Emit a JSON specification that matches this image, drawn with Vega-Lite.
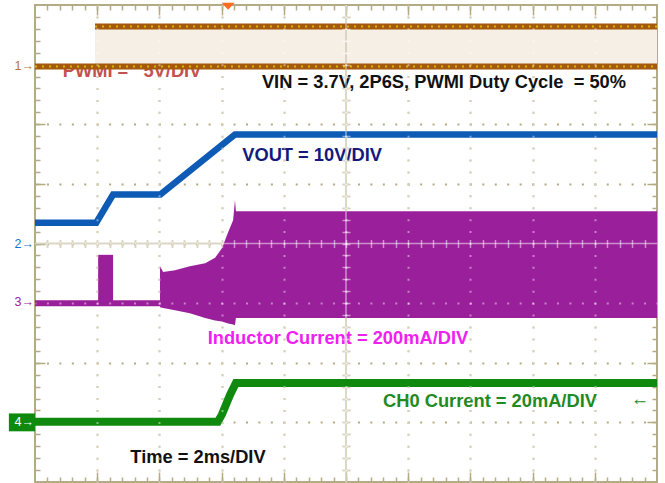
{
 "$schema":"https://vega.github.io/schema/vega-lite/v6.json",
 "width":622,"height":477,
 "autosize":{"type":"none"},
 "padding":{"left":35,"top":5,"right":8,"bottom":1},
 "background":"white",
 "config":{"view":{"stroke":"#b3ab84","strokeWidth":2},
   "axis":{"labels":false,"title":null,"domain":false,"grid":false,"ticks":true,"tickColor":"#b3ab84","tickWidth":1.5,"gridColor":"#b3ab84"}},
 "datasets":{
  "pwm_band":[{"t":1.93,"hi":7.64,"lo":6.97},{"t":20,"hi":7.64,"lo":6.97}],
  "pwm":[{"s":"low","t":0,"v":6.97},{"s":"low","t":20,"v":6.97},{"s":"high","t":1.93,"v":7.64},{"s":"high","t":20,"v":7.64}],
  "vout":[{"t":0,"v":4.35},{"t":1.97,"v":4.35},{"t":2.51,"v":4.82},{"t":4.03,"v":4.82},{"t":6.43,"v":5.83},{"t":20,"v":5.83}],
  "ind_base":[{"t":0,"v":3.0},{"t":4.02,"v":3.0}],
  "ind_pulse":[{"t1":2.03,"t2":2.51,"v1":3.0,"v2":3.81}],
  "ind_env":[{"t":4.02,"hi":3.62,"lo":2.93},{"t":4.12,"hi":3.52,"lo":2.92},{"t":4.5,"hi":3.55,"lo":2.88},{"t":4.98,"hi":3.62,"lo":2.83},{"t":5.47,"hi":3.67,"lo":2.75},{"t":5.79,"hi":3.76,"lo":2.71},{"t":6.01,"hi":3.92,"lo":2.69},{"t":6.21,"hi":4.19,"lo":2.66},{"t":6.37,"hi":4.39,"lo":2.64},{"t":6.43,"hi":4.73,"lo":2.63},{"t":6.46,"hi":4.54,"lo":2.75},{"t":20,"hi":4.54,"lo":2.75}],
  "ch0":[{"t":0,"v":1.01},{"t":5.88,"v":1.01},{"t":6.01,"v":1.13},{"t":6.27,"v":1.46},{"t":6.46,"v":1.66},{"t":20,"v":1.66}],
  "labels":[
   {"k":"PWM","text":"PWMI =\u00a0\u00a0 5V/DIV","t":3.12,"v":6.88},
   {"k":"VIN","text":"VIN = 3.7V, 2P6S, PWMI Duty Cycle\u00a0 = 50%","t":13.15,"v":6.69},
   {"k":"VOUT","text":"VOUT = 10V/DIV","t":8.91,"v":5.47},
   {"k":"IND","text":"Inductor Current = 200mA/DIV","t":9.74,"v":2.40},
   {"k":"CH0","text":"CH0 Current = 20mA/DIV","t":14.63,"v":1.34},
   {"k":"CH0","text":"←","t":19.45,"v":1.37},
   {"k":"TIME","text":"Time = 2ms/DIV","t":5.24,"v":0.40}
  ],
  "markers":[
   {"k":"m1","text":"1→","t":0,"v":6.97},
   {"k":"m2","text":"2→","t":0,"v":4.0},
   {"k":"m3","text":"3→","t":0,"v":3.02},
   {"k":"m4","text":"4→","t":0,"v":1.0}
  ],
  "box4":[{"t1":-0.84,"t2":0,"v1":0.85,"v2":1.15}],
  "trig":[{"t":6.21,"v":7.93}]
 },
 "layer":[
  {"data":{"name":"pwm_band"},"mark":{"type":"area","color":"#f6efe5"},
   "encoding":{
    "x":{"field":"t","type":"quantitative","scale":{"domain":[0,20],"nice":false,"zero":false},
      "axis":{"orient":"bottom","values":[2,4,6,8,10,12,14,16,18],"grid":true,"gridWidth":2,"gridDash":[2,9.925],"gridDashOffset":1,"ticks":false}},
    "y":{"field":"hi","type":"quantitative","scale":{"domain":[0,8],"nice":false,"zero":false},
      "axis":{"orient":"left","values":[1,2,3,4,5,6,7],"grid":true,"gridWidth":2,"gridDash":[2,10.44],"gridDashOffset":1,"ticks":false}},
    "y2":{"field":"lo"}}},
  {"data":{"values":[{}]},"mark":{"type":"rule","color":"#b3ab84","strokeWidth":1.5},
   "encoding":{"x":{"datum":10,"type":"quantitative","axis":null}}},
  {"data":{"values":[{}]},"mark":{"type":"rule","color":"#b3ab84","strokeWidth":1.5},
   "encoding":{"y":{"datum":4,"type":"quantitative","axis":null}}},
  {"data":{"name":"labels"},"mark":{"type":"text","font":"Liberation Sans","fontWeight":"bold","fontSize":18.3,"align":"center","baseline":"middle"},
   "encoding":{
    "x":{"field":"t","type":"quantitative","axis":{"orient":"bottom","values":[0.4,0.8,1.2,1.6,2,2.4,2.8,3.2,3.6,4,4.4,4.8,5.2,5.6,6,6.4,6.8,7.2,7.6,8,8.4,8.8,9.2,9.6,10,10.4,10.8,11.2,11.6,12,12.4,12.8,13.2,13.6,14,14.4,14.8,15.2,15.6,16,16.4,16.8,17.2,17.6,18,18.4,18.8,19.2,19.6],"tickSize":5,"offset":-5}},
    "y":{"field":"v","type":"quantitative","axis":{"orient":"left","values":[0.2,0.4,0.6,0.8,1,1.2,1.4,1.6,1.8,2,2.2,2.4,2.6,2.8,3,3.2,3.4,3.6,3.8,4,4.2,4.4,4.6,4.8,5,5.2,5.4,5.6,5.8,6,6.2,6.4,6.6,6.8,7,7.2,7.4,7.6,7.8],"tickSize":5,"offset":-5}},
    "text":{"field":"text"},
    "color":{"field":"k","type":"nominal","legend":null,"scale":{"domain":["PWM","VIN","VOUT","IND","CH0","TIME","m1","m2","m3","m4"],"range":["#c4514f","#111111","#141a7c","#f020f0","#1f8a1f","#111111","#b8742f","#1f6fd0","#a0209a","#ffffff"]}}}},
  {"data":{"name":"pwm"},"mark":{"type":"line","color":"#a5590c","strokeWidth":6},
   "encoding":{
    "x":{"field":"t","type":"quantitative","axis":{"orient":"bottom","values":[2,4,6,8,10,12,14,16,18],"tickSize":10,"offset":-10}},
    "y":{"field":"v","type":"quantitative","axis":{"orient":"left","values":[1,2,3,4,5,6,7],"tickSize":10,"offset":-10}},
    "detail":{"field":"s"}}},
  {"data":{"name":"pwm"},"mark":{"type":"line","color":"#e2d000","strokeWidth":2,"strokeDash":[2,5],"opacity":0.8},
   "encoding":{
    "x":{"field":"t","type":"quantitative","axis":null},
    "y":{"field":"v","type":"quantitative","axis":null},
    "detail":{"field":"s"}}},
  {"data":{"name":"vout"},"mark":{"type":"line","color":"#0d5bb5","strokeWidth":6.5},
   "encoding":{
    "x":{"field":"t","type":"quantitative","axis":{"orient":"top","values":[0.4,0.8,1.2,1.6,2,2.4,2.8,3.2,3.6,4,4.4,4.8,5.2,5.6,6,6.4,6.8,7.2,7.6,8,8.4,8.8,9.2,9.6,10,10.4,10.8,11.2,11.6,12,12.4,12.8,13.2,13.6,14,14.4,14.8,15.2,15.6,16,16.4,16.8,17.2,17.6,18,18.4,18.8,19.2,19.6],"tickSize":5,"offset":-5}},
    "y":{"field":"v","type":"quantitative","axis":{"orient":"right","values":[0.2,0.4,0.6,0.8,1,1.2,1.4,1.6,1.8,2,2.2,2.4,2.6,2.8,3,3.2,3.4,3.6,3.8,4,4.2,4.4,4.6,4.8,5,5.2,5.4,5.6,5.8,6,6.2,6.4,6.6,6.8,7,7.2,7.4,7.6,7.8],"tickSize":5,"offset":-5}}}},
  {"data":{"name":"ind_base"},"mark":{"type":"line","color":"#9a1f9a","strokeWidth":6},
   "encoding":{
    "x":{"field":"t","type":"quantitative","axis":{"orient":"top","values":[2,4,6,8,10,12,14,16,18],"tickSize":10,"offset":-10}},
    "y":{"field":"v","type":"quantitative","axis":{"orient":"right","values":[1,2,3,4,5,6,7],"tickSize":10,"offset":-10}}}},
  {"data":{"name":"ind_pulse"},"mark":{"type":"rect","color":"#9a1f9a"},
   "encoding":{
    "x":{"field":"t1","type":"quantitative","axis":null},"x2":{"field":"t2"},
    "y":{"field":"v1","type":"quantitative","axis":null},"y2":{"field":"v2"}}},
  {"data":{"name":"ind_env"},"mark":{"type":"area","color":"#9a1f9a"},
   "encoding":{
    "x":{"field":"t","type":"quantitative","axis":{"orient":"bottom","values":[0.4,0.8,1.2,1.6,2,2.4,2.8,3.2,3.6,4,4.4,4.8,5.2,5.6,6,6.4,6.8,7.2,7.6,8,8.4,8.8,9.2,9.6,10,10.4,10.8,11.2,11.6,12,12.4,12.8,13.2,13.6,14,14.4,14.8,15.2,15.6,16,16.4,16.8,17.2,17.6,18,18.4,18.8,19.2,19.6],"tickSize":8,"offset":-242.5}},
    "y":{"field":"hi","type":"quantitative","axis":{"orient":"left","values":[0.2,0.4,0.6,0.8,1,1.2,1.4,1.6,1.8,2,2.2,2.4,2.6,2.8,3,3.2,3.4,3.6,3.8,4,4.2,4.4,4.6,4.8,5,5.2,5.4,5.6,5.8,6,6.2,6.4,6.6,6.8,7,7.2,7.4,7.6,7.8],"tickSize":8,"offset":-315}},
    "y2":{"field":"lo"}}},
  {"data":{"values":[{}]},"mark":{"type":"rule","color":"#ffffff","strokeWidth":1.5,"opacity":0.5},
   "encoding":{"x":{"datum":10,"type":"quantitative","axis":null}}},
  {"data":{"values":[{}]},"mark":{"type":"rule","color":"#ffffff","strokeWidth":1.5,"opacity":0.5},
   "encoding":{"y":{"datum":4,"type":"quantitative","axis":null}}},
  {"data":{"name":"ch0"},"mark":{"type":"line","color":"#0f8a0f","strokeWidth":8},
   "encoding":{
    "x":{"field":"t","type":"quantitative","axis":{"orient":"bottom","zindex":1,"tickColor":"#ffffff","tickOpacity":0.5,"values":[0.4,0.8,1.2,1.6,2,2.4,2.8,3.2,3.6,4,4.4,4.8,5.2,5.6,6,6.4,6.8,7.2,7.6,8,8.4,8.8,9.2,9.6,10,10.4,10.8,11.2,11.6,12,12.4,12.8,13.2,13.6,14,14.4,14.8,15.2,15.6,16,16.4,16.8,17.2,17.6,18,18.4,18.8,19.2,19.6],"tickSize":8,"offset":-242.5}},
    "y":{"field":"v","type":"quantitative","axis":{"orient":"left","zindex":1,"tickColor":"#ffffff","tickOpacity":0.5,"values":[0.2,0.4,0.6,0.8,1,1.2,1.4,1.6,1.8,2,2.2,2.4,2.6,2.8,3,3.2,3.4,3.6,3.8,4,4.2,4.4,4.6,4.8,5,5.2,5.4,5.6,5.8,6,6.2,6.4,6.6,6.8,7,7.2,7.4,7.6,7.8],"tickSize":8,"offset":-315}}}},
  {"data":{"name":"box4"},"mark":{"type":"rect","color":"#0f8a0f"},
   "encoding":{
    "x":{"field":"t1","type":"quantitative","axis":{"orient":"bottom","zindex":1,"values":[2,4,6,8,10,12,14,16,18],"grid":true,"gridColor":"#ffffff","gridOpacity":0.45,"gridWidth":2,"gridDash":[2,9.925],"gridDashOffset":1,"ticks":false}},"x2":{"field":"t2"},
    "y":{"field":"v1","type":"quantitative","axis":{"orient":"left","zindex":1,"values":[3],"grid":true,"gridColor":"#ffffff","gridOpacity":0.45,"gridWidth":2,"gridDash":[2,10.44],"gridDashOffset":1,"ticks":false}},"y2":{"field":"v2"}}},
  {"data":{"name":"markers"},"mark":{"type":"text","font":"Liberation Sans","fontSize":12.5,"align":"right","baseline":"middle","dx":-1},
   "encoding":{
    "x":{"field":"t","type":"quantitative","axis":null},
    "y":{"field":"v","type":"quantitative","axis":null},
    "text":{"field":"text"},
    "color":{"field":"k","type":"nominal","legend":null}}},
  {"data":{"name":"trig"},"mark":{"type":"point","filled":true,"color":"#ff6a21","opacity":1,"shape":"M-1,-1L1,-1L0,0.1Z","size":169},
   "encoding":{
    "x":{"field":"t","type":"quantitative","axis":null},
    "y":{"field":"v","type":"quantitative","axis":null}}}
 ],
 "resolve":{"axis":{"x":"independent","y":"independent"}}
}
